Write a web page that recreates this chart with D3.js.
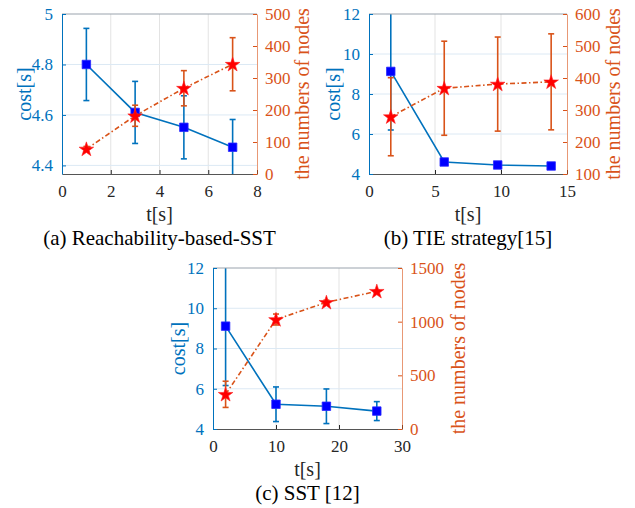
<!DOCTYPE html>
<html><head><meta charset="utf-8">
<script src="https://cdn.jsdelivr.net/npm/d3@7"></script>
<style>
body{margin:0;background:#fff;}
svg{display:block;}
svg text{font-family:"Liberation Serif","Times New Roman","DejaVu Serif",serif !important;}
</style></head>
<body><svg id="chart" width="635" height="508"></svg>
<script>
// ---------- data ----------
// (a) Reachability-based-SST
const aTime = [1, 3, 5, 7];
const aCost = [4.80, 4.61, 4.551, 4.472];
const aCostErr = [0.143, 0.123, 0.125, 0.11];
const aNodes = [78, 182, 268, 343];
const aNodesErr = [8, 33, 55, 83];
const aXTicks = [0, 2, 4, 6, 8];
const aYTicks = [4.4, 4.6, 4.8, 5];
const aY2Ticks = [0, 100, 200, 300, 400, 500];
// (b) TIE strategy[15]
const bTime = [1.65, 5.7, 9.75, 13.8];
const bCost = [9.13, 4.6, 4.45, 4.4];
const bCostErr = [2.93, 0.1, 0.05, 0.05];
const bNodes = [279, 368, 381, 388];
const bNodesErr = [122, 147, 147, 150];
const bXTicks = [0, 5, 10, 15];
const bYTicks = [4, 6, 8, 10, 12];
const bY2Ticks = [100, 200, 300, 400, 500, 600];
// (c) SST [12]
const cTime = [2, 10, 18, 26];
const cCost = [9.11, 5.23, 5.13, 4.89];
const cCostErr = [2.95, 0.86, 0.86, 0.47];
const cNodes = [323, 1020, 1180, 1283];
const cNodesErr = [122, 51, 20, 12];
const cXTicks = [0, 10, 20, 30];
const cYTicks = [4, 6, 8, 10, 12];
const cY2Ticks = [0, 500, 1000, 1500];

const titles = ["(a) Reachability-based-SST", "(b) TIE strategy[15]", "(c) SST [12]"];
const xLabel = "t[s]", yLabel = "cost[s]", y2Label = "the numbers of nodes";

const BLUE = "#0072BD", ORANGE = "#D95319", DARK = "#262626";

const svg = d3.select("#chart");

const panels = [
  {id:"a", box:[62,14,257,174], xd:[0,8], yd:[4.366,5], y2d:[0,500], ylOff:31, y2lOff:52,
   t:aTime, c:aCost, ce:aCostErr, n:aNodes, ne:aNodesErr, xt:aXTicks, yt:aYTicks, y2t:aY2Ticks, title:titles[0]},
  {id:"b", box:[369,14,567,174], xd:[0,15], yd:[4,12], y2d:[100,600], ylOff:29, y2lOff:53,
   t:bTime, c:bCost, ce:bCostErr, n:bNodes, ne:bNodesErr, xt:bXTicks, yt:bYTicks, y2t:bY2Ticks, title:titles[1]},
  {id:"c", box:[213,268,402,429], xd:[0,30], yd:[4,12], y2d:[0,1500], ylOff:28, y2lOff:63,
   t:cTime, c:cCost, ce:cCostErr, n:cNodes, ne:cNodesErr, xt:cXTicks, yt:cYTicks, y2t:cY2Ticks, title:titles[2]}
];

const fmt = d => String(d);

panels.forEach(p => {
  const [L,T,R,B] = p.box;
  const x = d3.scaleLinear().domain(p.xd).range([L,R]);
  const y = d3.scaleLinear().domain(p.yd).range([B,T]);
  const y2 = d3.scaleLinear().domain(p.y2d).range([B,T]);
  const g = svg.append("g");

  // grid
  g.append("g").selectAll("line").data(p.xt.filter(v=>v>p.xd[0]&&v<p.xd[1])).join("line")
    .attr("x1",d=>x(d)).attr("x2",d=>x(d)).attr("y1",T).attr("y2",B)
    .attr("stroke","#e3e3e3").attr("stroke-width",1);
  g.append("g").selectAll("line").data(p.yt.filter(v=>v>p.yd[0]&&v<p.yd[1])).join("line")
    .attr("x1",L).attr("x2",R).attr("y1",d=>y(d)).attr("y2",d=>y(d))
    .attr("stroke","#dce9f4").attr("stroke-width",1);

  // clip
  svg.append("clipPath").attr("id","clip"+p.id).append("rect")
    .attr("x",L).attr("y",T).attr("width",R-L).attr("height",B-T);
  const data = p.t.map((t,i)=>({t, c:p.c[i], ce:p.ce[i], n:p.n[i], ne:p.ne[i]}));
  const dg = g.append("g").attr("clip-path",`url(#clip${p.id})`);

  // blue series
  dg.append("path").datum(data)
    .attr("d", d3.line().x(d=>x(d.t)).y(d=>y(d.c)))
    .attr("fill","none").attr("stroke",BLUE).attr("stroke-width",1.6);
  const be = dg.append("g").attr("stroke",BLUE).attr("stroke-width",1.6);
  data.forEach(d=>{
    be.append("line").attr("x1",x(d.t)).attr("x2",x(d.t)).attr("y1",y(d.c-d.ce)).attr("y2",y(d.c+d.ce));
    be.append("line").attr("x1",x(d.t)-3).attr("x2",x(d.t)+3).attr("y1",y(d.c-d.ce)).attr("y2",y(d.c-d.ce));
    be.append("line").attr("x1",x(d.t)-3).attr("x2",x(d.t)+3).attr("y1",y(d.c+d.ce)).attr("y2",y(d.c+d.ce));
  });
  dg.append("g").selectAll("path").data(data).join("path")
    .attr("d", d3.symbol(d3.symbolSquare, 72)())
    .attr("transform", d=>`translate(${x(d.t)},${y(d.c)})`)
    .attr("fill","#0000FF").attr("stroke","#2a2aff").attr("stroke-width",0.8);

  // orange series
  dg.append("path").datum(data)
    .attr("d", d3.line().x(d=>x(d.t)).y(d=>y2(d.n)))
    .attr("fill","none").attr("stroke",ORANGE).attr("stroke-width",1.6)
    .attr("stroke-dasharray","5,2.5,1.5,2.5");
  const oe = dg.append("g").attr("stroke",ORANGE).attr("stroke-width",1.6);
  data.forEach(d=>{
    oe.append("line").attr("x1",x(d.t)).attr("x2",x(d.t)).attr("y1",y2(d.n-d.ne)).attr("y2",y2(d.n+d.ne));
    oe.append("line").attr("x1",x(d.t)-3).attr("x2",x(d.t)+3).attr("y1",y2(d.n-d.ne)).attr("y2",y2(d.n-d.ne));
    oe.append("line").attr("x1",x(d.t)-3).attr("x2",x(d.t)+3).attr("y1",y2(d.n+d.ne)).attr("y2",y2(d.n+d.ne));
  });
  dg.append("g").selectAll("path").data(data).join("path")
    .attr("d", d3.symbol(d3.symbolStar, 66)())
    .attr("transform", d=>`translate(${x(d.t)},${y2(d.n)+0.5})`)
    .attr("fill","#FF0000").attr("stroke","#ff2020").attr("stroke-width",0.6);

  // box top
  g.append("line").attr("x1",L).attr("x2",R).attr("y1",T).attr("y2",T)
    .attr("stroke","#9aa3ad").attr("stroke-width",1);

  // axes
  const ax = g.append("g").attr("transform",`translate(0,${B})`)
    .call(d3.axisBottom(x).tickValues(p.xt).tickFormat(fmt).tickSizeInner(-4).tickSizeOuter(0).tickPadding(11));
  ax.select(".domain").attr("stroke","#555");
  ax.selectAll(".tick line").attr("stroke",DARK);
  ax.selectAll("text").attr("fill",DARK).attr("font-size",17);

  const ay = g.append("g").attr("transform",`translate(${L},0)`)
    .call(d3.axisLeft(y).tickValues(p.yt).tickFormat(fmt).tickSizeInner(-4).tickSizeOuter(0).tickPadding(9));
  ay.select(".domain").attr("stroke",BLUE);
  ay.selectAll(".tick line").attr("stroke",BLUE);
  ay.selectAll("text").attr("fill",BLUE).attr("font-size",17);

  const ay2 = g.append("g").attr("transform",`translate(${R},0)`)
    .call(d3.axisRight(y2).tickValues(p.y2t).tickFormat(fmt).tickSizeInner(-4).tickSizeOuter(0).tickPadding(8));
  ay2.select(".domain").attr("stroke",ORANGE).attr("stroke-opacity",0.6);
  ay2.selectAll(".tick line").attr("stroke",ORANGE);
  ay2.selectAll("text").attr("fill",ORANGE).attr("font-size",17);

  // labels
  const cx = (L+R)/2, cy = (T+B)/2;
  g.append("text").attr("x",cx).attr("y",B+47).attr("text-anchor","middle")
    .attr("font-size",20).attr("fill",DARK).text(xLabel);
  g.append("text").attr("transform",`translate(${L-p.ylOff},${cy}) rotate(-90)`).attr("text-anchor","middle")
    .attr("font-size",20).attr("fill",BLUE).text(yLabel);
  g.append("text").attr("transform",`translate(${R+p.y2lOff},${cy}) rotate(-90)`).attr("text-anchor","middle")
    .attr("font-size",20).attr("fill",ORANGE).text(y2Label);
  g.append("text").attr("x",cx).attr("y",B+71).attr("text-anchor","middle")
    .attr("font-size",21).attr("fill","#000").text(p.title);
});
</script></body></html>
